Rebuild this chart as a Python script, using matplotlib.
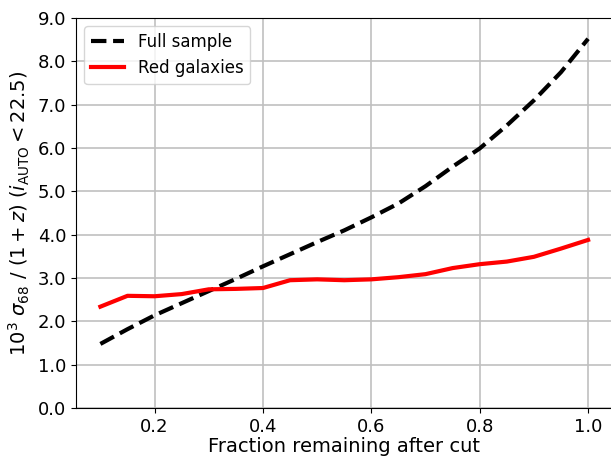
import matplotlib
matplotlib.use('Agg')
import matplotlib.pyplot as plt
import numpy as np

frac = [0.10, 0.15, 0.20, 0.25, 0.30, 0.35, 0.40, 0.45, 0.50, 0.55,
        0.60, 0.65, 0.70, 0.75, 0.80, 0.85, 0.90, 0.95, 1.00]
full_sample = [1.48, 1.82, 2.14, 2.42, 2.70, 2.98, 3.27, 3.55, 3.83, 4.10,
               4.40, 4.72, 5.12, 5.57, 5.99, 6.52, 7.10, 7.75, 8.52]
red_gal = [2.34, 2.59, 2.58, 2.63, 2.74, 2.75, 2.77, 2.95, 2.97, 2.95,
           2.97, 3.02, 3.09, 3.23, 3.32, 3.38, 3.49, 3.68, 3.88]

fig = plt.figure(figsize=(6.11, 4.58), dpi=100)
ax = fig.add_axes([0.1244, 0.109, 0.878, 0.8517])

ax.plot(frac, full_sample, color='black', ls='--', lw=3, label='Full sample')
ax.plot(frac, red_gal, color='red', lw=3, label='Red galaxies')

ax.set_xlim(0.055, 1.045)
ax.set_ylim(0, 9)
ax.set_xticks([0.2, 0.4, 0.6, 0.8, 1.0])
ax.set_yticks(np.arange(0, 9.5, 1.0))
ax.set_yticklabels(['%.1f' % v for v in np.arange(0, 9.5, 1.0)])
ax.tick_params(labelsize=13)
ax.grid(True, color='#c0c0c0', lw=1.2)
ax.set_axisbelow(True)

ax.set_xlabel('Fraction remaining after cut', fontsize=14, labelpad=1)
ax.set_ylabel(r'$10^3\ \sigma_{68}\ /\ (1+z)\ (i_{\rm AUTO} < 22.5)$', fontsize=14)
ax.legend(loc='upper left', fontsize=12)

fig.savefig('out.png', dpi=100)
